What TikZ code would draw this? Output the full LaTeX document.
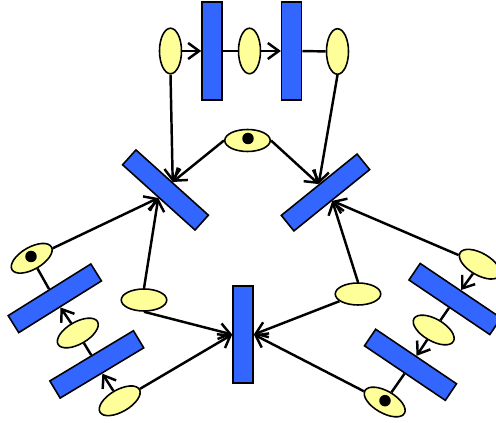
\documentclass[tikz,border=0pt]{standalone}
\usepackage{color,pgf,tikz}
\usetikzlibrary{shapes.geometric,arrows.meta}
\definecolor{placefill}{HTML}{FFFF99}
\definecolor{transfill}{HTML}{3366FF}

\begin{document}
\begin{tikzpicture}[
    place/.style={ellipse,draw,line width=0.9pt,fill=placefill,inner sep=0pt,minimum width=0.91cm,minimum height=0.44cm},
    trans/.style={rectangle,draw,line width=0.9pt,fill=transfill,inner sep=0pt,minimum width=0.4cm,minimum height=1.95cm},
    token/.style={circle,fill=black,inner sep=0pt,minimum size=0.23cm},
    arc/.style={line width=1.4pt},
    arcto/.style={arc,-{Straight Barb[length=0.22cm,width=0.32cm]}}
  ]
    \useasboundingbox (0,0) rectangle (9.92,8.46);
    \clip (0,0) rectangle (9.92,8.46);

    % top chain
    \node[place,rotate=90] (p1) at (3.41,7.44) {};
    \node[trans] (t1) at (4.24,7.44) {};
    \node[place,rotate=90] (p2) at (4.99,7.44) {};
    \node[trans] (t2) at (5.834,7.44) {};
    \node[place,rotate=90] (p3) at (6.75,7.43) {};

    % middle
    \node[place] (p4) at (4.95,5.65) {};
    \node[token] (k4) at (4.96,5.69) {};
    \node[trans,rotate=48] (t3) at (3.31,4.66) {};
    \node[trans,rotate=-51] (t4) at (6.51,4.61) {};
    \node[place] (p8) at (2.88,2.46) {};
    \node[place] (p9) at (7.16,2.58) {};
    \node[trans] (t7) at (4.86,1.77) {};

    % left chain
    \node[place,rotate=30] (p5) at (0.634,3.294) {};
    \node[token] (k5) at (0.62,3.33) {};
    \node[trans,rotate=-58] (t5) at (1.096,2.494) {};
    \node[place,rotate=30] (p6) at (1.556,1.80) {};
    \node[trans,rotate=-59] (t6) at (1.936,1.172) {};
    \node[place,rotate=30] (p7) at (2.394,0.444) {};

    % right chain
    \node[place,rotate=-30] (p11) at (9.596,3.176) {};
    \node[trans,rotate=56] (t8) at (9.10,2.48) {};
    \node[place,rotate=-30] (p12) at (8.674,1.86) {};
    \node[trans,rotate=56] (t9) at (8.21,1.164) {};
    \node[place,rotate=-30] (p13) at (7.694,0.42) {};
    \node[token] (k13) at (7.70,0.446) {};

    % arcs of the chains
    \draw[arcto] (p1) -- (t1);
    \draw[arc] (t1) -- (p2);
    \draw[arcto] (p2) -- (t2);
    \draw[arc] (t2) -- (p3);
    \draw[arc] (p5) -- (t5.west);
    \draw[arcto] (p6) -- (t5.east);
    \draw[arc] (p6) -- (t6.west);
    \draw[arcto] (p7) -- (t6.east);
    \draw[arcto] (p11) -- (t8.east);
    \draw[arc] (p12) -- (t8.west);
    \draw[arcto] (p12) -- (t9.east);
    \draw[arc] (p13) -- (t9.west);

    % arcs into the middle
    \draw[arcto] (p1.west) -- (t3.east);
    \draw[arcto] (p4.west) -- (t3.east);
    \draw[arcto] (p3.west) -- (t4.west);
    \draw[arcto] (p4.east) -- (t4.west);
    \draw[arcto] (p5) -- (t3.west);
    \draw[arcto] (p8.north) -- (t3.west);
    \draw[arcto] (p9.north) -- (t4.east);
    \draw[arcto] (p11) -- (t4.east);
    \draw[arcto] (p8.south) -- (t7.west);
    \draw[arcto] (p7) -- (t7.west);
    \draw[arcto] (p9) -- (t7.east);
    \draw[arcto] (p13) -- (t7.east);
\end{tikzpicture}
\end{document}
